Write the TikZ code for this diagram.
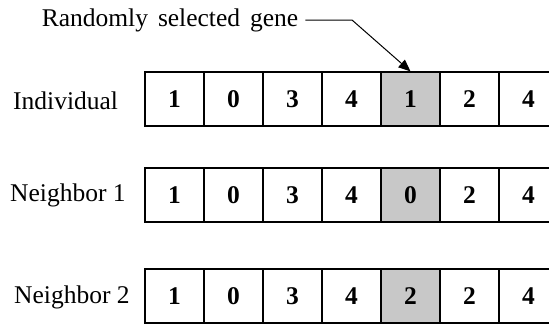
\documentclass[tikz,border=0pt]{standalone}
\usepackage{fontspec}
\setmainfont{Liberation Serif}
\usetikzlibrary{arrows.meta}

\definecolor{selgray}{RGB}{200,200,200}

\tikzset{
  gene/.style={draw, line width=1.3pt, minimum width=59pt, minimum height=54pt,
    inner sep=0pt, font=\fontsize{25.5}{30}\selectfont\bfseries},
  picked/.style={gene, fill=selgray},
  rowlabel/.style={anchor=west, inner sep=0pt},
}

\begin{document}
\begin{tikzpicture}[x=1pt, y=-1pt, font=\fontsize{25.5}{30}\selectfont]
  \clip (0,0) rectangle (549,324);

  % row names
  \node[rowlabel] (ind) at (13,101) {Individual};
  \node[rowlabel] (nb1) at (10,195) {Neighbor 1};
  \node[rowlabel] (nb2) at (14,297) {Neighbor 2};

  % chromosomes, fifth gene is the mutated one
  \foreach \r/\y/\g in {1/99/1, 2/195/0, 3/296/2} {
    \foreach \v/\s [count=\i] in {1/gene, 0/gene, 3/gene, 4/gene, \g/picked, 2/gene, 4/gene} {
      \node[\s] (c\r\i) at (115.5+59*\i, \y) {\v};
    }
  }

  % pointer to the selected gene
  \node (note) at (170,20) {\spaceskip=10pt Randomly selected gene};
  \coordinate (bend) at (352,20);
  \draw[line width=1pt, shorten <=3.5pt, -{Triangle[length=12pt, width=10pt]}]
    (note.east) -- (bend) -- (c15.north);
\end{tikzpicture}
\end{document}
